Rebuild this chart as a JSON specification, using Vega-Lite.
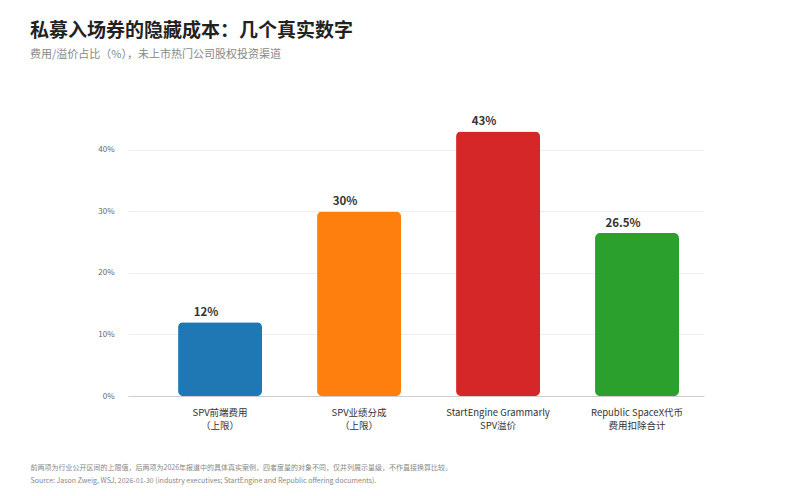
{
  "$schema": "https://vega.github.io/schema/vega-lite/v6.json",
  "description": "私募入场券的隐藏成本",
  "width": 576,
  "height": 291,
  "autosize": {"type": "none"},
  "padding": {"left": 128, "top": 105, "right": 88, "bottom": 100},
  "background": "white",
  "config": {
    "font": "Noto Sans CJK SC",
    "view": {"stroke": null}
  },
  "title": {
    "text": "私募入场券的隐藏成本：几个真实数字",
    "subtitle": "费用/溢价占比（%），未上市热门公司股权投资渠道",
    "anchor": "start",
    "frame": "group",
    "dx": -98,
    "offset": 45,
    "fontSize": 19,
    "fontWeight": "bold",
    "color": "#222222",
    "subtitleFontSize": 11,
    "subtitleColor": "#888888",
    "subtitlePadding": 8
  },
  "data": {
    "values": [
      {"cat": "SPV前端费用|（上限）", "v": 0.12},
      {"cat": "SPV业绩分成|（上限）", "v": 0.30},
      {"cat": "StartEngine Grammarly|SPV溢价", "v": 0.43},
      {"cat": "Republic SpaceX代币|费用扣除合计", "v": 0.265}
    ]
  },
  "encoding": {
    "x": {
      "field": "cat",
      "type": "nominal",
      "sort": null,
      "scale": {"paddingInner": 0.396, "paddingOuter": 0.27, "align": 0.667},
      "axis": {
        "labelAngle": 0,
        "labelExpr": "split(datum.label, '|')",
        "labelFontSize": 9.5,
        "labelColor": "#333333",
        "labelPadding": 11,
        "labelLineHeight": 13,
        "ticks": false,
        "domainColor": "#cccccc",
        "title": [
          "前两项为行业公开区间的上限值，后两项为2026年报道中的具体真实案例，四者度量的对象不同，仅并列展示量级，不作直接换算比较。",
          "Source: Jason Zweig, WSJ, 2026-01-30 (industry executives; StartEngine and Republic offering documents)."
        ],
        "titleFontSize": 7,
        "titleFontWeight": "normal",
        "titleColor": "#888888",
        "titleAlign": "left",
        "titleAnchor": "start",
        "titleBaseline": "top",
        "titleX": -98,
        "titleY": 67,
        "titleLineHeight": 13
      }
    },
    "y": {
      "field": "v",
      "type": "quantitative",
      "scale": {"domain": [0, 0.473]},
      "axis": {
        "values": [0, 0.1, 0.2, 0.3, 0.4],
        "format": ".0%",
        "title": null,
        "domain": false,
        "ticks": false,
        "labelFontSize": 8,
        "labelColor": "#666666",
        "labelPadding": 14,
        "gridColor": "#eeeeee"
      }
    }
  },
  "layer": [
    {
      "mark": {"type": "bar", "cornerRadius": 5},
      "encoding": {
        "color": {
          "field": "cat",
          "type": "nominal",
          "sort": null,
          "legend": null,
          "scale": {"range": ["#1f77b4", "#ff7f0e", "#d62728", "#2ca02c"]}
        }
      }
    },
    {
      "mark": {
        "type": "text",
        "baseline": "bottom",
        "dy": -4,
        "dx": -14,
        "fontSize": 11.5,
        "fontWeight": "bold",
        "color": "#333333"
      },
      "encoding": {
        "text": {"field": "v", "type": "quantitative", "format": ".1~%"}
      }
    }
  ]
}
